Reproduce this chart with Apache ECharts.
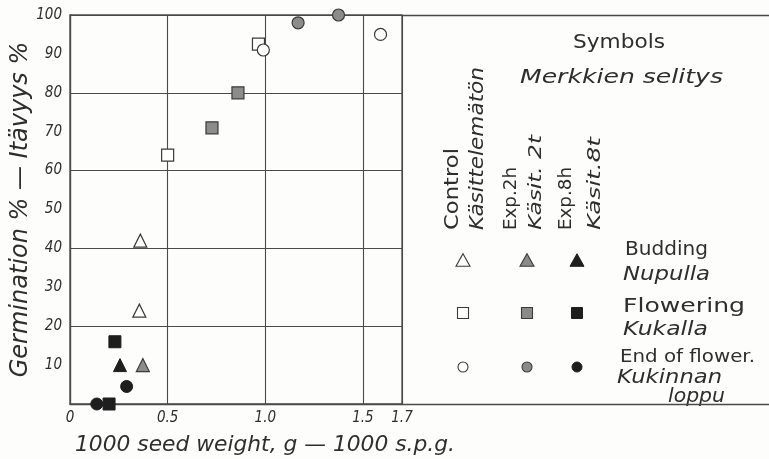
<!DOCTYPE html>
<html>
<head>
<meta charset="utf-8">
<script src="https://cdn.jsdelivr.net/npm/echarts@6/dist/echarts.min.js"></script>
<style>html,body{margin:0;padding:0;background:#fdfdfc;}#c{width:769px;height:459px;}</style>
</head>
<body>
<div id="c"></div>
<script>
// ---- data: [1000 seed weight g, germination %]
var controlBudding   = [[0.36, 42], [0.355, 24]];
var controlFlowering = [[0.50, 64], [0.965, 92.5]];
var controlEnd       = [[0.99, 91], [1.59, 95]];
var exp2Budding      = [[0.373, 10]];
var exp2Flowering    = [[0.727, 71], [0.86, 80]];
var exp2End          = [[1.168, 98], [1.375, 100]];
var exp8Budding      = [[0.256, 10]];
var exp8Flowering    = [[0.23, 16], [0.20, 0]];
var exp8End          = [[0.29, 4.5], [0.137, 0]];
var xTickValues = [0, 0.5, 1.0, 1.5, 1.7];
var yTickLabels = [10, 20, 30, 40, 50, 60, 70, 80, 90, 100];

var INK = '#2e2e2e';
var LINE = '#4a4a4a';
var FONT = 'DejaVu Sans';
var FONTC = 'DejaVu Sans Condensed, DejaVu Sans';

var hatch = {
  symbol: 'rect', symbolSize: 1, dashArrayX: [1, 0], dashArrayY: [1.5, 1.5],
  rotation: -Math.PI / 4, color: '#444', backgroundColor: '#9a9a9a'
};
var styles = {
  open:   { color: '#fff', borderColor: '#3a3a3a', borderWidth: 1.2, opacity: 1 },
  hatch:  { color: '#8c8c8c', borderColor: '#3a3a3a', borderWidth: 1.2, opacity: 1, decal: hatch },
  filled: { color: '#1e1e1e', borderColor: '#1e1e1e', borderWidth: 1, opacity: 1 }
};
function sc(name, data, symbol, st, size) {
  return {
    name: name, type: 'scatter', xAxisIndex: 0, yAxisIndex: 0,
    data: data, symbol: symbol, symbolSize: size, itemStyle: st, z: 5, silent: true
  };
}

var chart = echarts.init(document.getElementById('c'));

var mctx = document.createElement('canvas').getContext('2d');
function measure(text, font) { mctx.font = font; return mctx.measureText(text).width; }

// text stretched along its baseline to a target length
function txt(x, y, text, size, italic, target, opts) {
  opts = opts || {};
  var font = (italic ? 'italic ' : '') + size + 'px ' + FONT;
  var w = measure(text, font);
  var s = target ? target / w : 1;
  return {
    type: 'text', x: x, y: y, rotation: opts.rot || 0, scaleX: s, silent: true,
    style: {
      text: text, fill: INK, font: font,
      textAlign: opts.align || 'left', textVerticalAlign: 'middle'
    }
  };
}
function sym(kind, x, y, st, size) {
  var shape, t;
  if (kind === 'circle') { t = 'circle'; shape = { cx: x, cy: y, r: size / 2 }; }
  else if (kind === 'rect') { t = 'rect'; shape = { x: x - size / 2, y: y - size / 2, width: size, height: size }; }
  else { t = 'polygon'; shape = { points: [[x, y - size * 0.45], [x + size / 2, y + size * 0.45], [x - size / 2, y + size * 0.45]] }; }
  return { type: t, shape: shape, silent: true,
    style: { fill: st.color, stroke: st.borderColor, lineWidth: st.borderWidth } };
}

var legendCols = [463, 527, 577];
var legendRows = [260, 313, 367];
var legendKinds = ['triangle', 'rect', 'circle'];
var legendSizes = [14, 11, 10];
var legendStyles = [
  { color: '#fff', borderColor: '#3a3a3a', borderWidth: 1.1 },
  { color: '#8a8a8a', borderColor: '#3a3a3a', borderWidth: 1.1 },
  { color: '#1e1e1e', borderColor: '#1e1e1e', borderWidth: 1 }
];
var graphics = [];
legendRows.forEach(function (ry, ri) {
  legendCols.forEach(function (cx, ci) {
    graphics.push(sym(legendKinds[ri], cx, ry, legendStyles[ci], legendSizes[ri]));
  });
});
var R = Math.PI / 2;
graphics.push(
  txt(573, 43, 'Symbols', 19, false, 92),
  txt(520, 78, 'Merkkien selitys', 20, true, 203),
  txt(453, 230, 'Control', 19, false, 82, { rot: R }),
  txt(478, 230, 'Käsittelemätön', 19, true, 163, { rot: R }),
  txt(512, 230, 'Exp.2h', 17, false, 63, { rot: R }),
  txt(536, 230, 'Käsit. 2t', 18, true, 95, { rot: R }),
  txt(567, 230, 'Exp.8h', 17, false, 63, { rot: R }),
  txt(595, 230, 'Käsit.8t', 18, true, 93, { rot: R }),
  txt(625, 250, 'Budding', 19, false, 83),
  txt(623, 275, 'Nupulla', 19, true, 87),
  txt(623, 307, 'Flowering', 19, false, 122),
  txt(623, 330, 'Kukalla', 19, true, 85),
  txt(620, 357, 'End of flower.', 18, false, 135),
  txt(617, 378, 'Kukinnan', 19, true, 105),
  txt(668, 397, 'loppu', 19, true, 57),
  txt(75, 446, '1000 seed weight, g — 1000 s.p.g.', 21, true, 380)
);

var axisLineStyle = { color: LINE, width: 1.3 };
chart.setOption({
  animation: false,
  backgroundColor: '#fdfdfc',
  grid: [
    { left: 70, top: 15, right: 367, bottom: 55, show: true, borderColor: LINE, borderWidth: 1.3, backgroundColor: 'transparent' },
    { left: 402, top: 15, right: 0, bottom: 55, show: false }
  ],
  xAxis: [
    {
      gridIndex: 0, type: 'value', min: 0, max: 1.7, interval: 0.5,
      axisLine: { show: true, lineStyle: axisLineStyle },
      axisTick: { show: false },
      splitLine: { show: true, lineStyle: { color: LINE, width: 1.1 } },
      axisLabel: {
        margin: 7, color: INK, fontFamily: FONTC, fontStyle: 'italic', fontSize: 15,
        customValues: xTickValues,
        formatter: function (v) { return v === 0 ? '0' : v.toFixed(1); }
      }
    },
    { gridIndex: 1, type: 'value', position: 'bottom', min: 0, max: 1,
      axisLine: { show: true, lineStyle: axisLineStyle }, axisTick: { show: false },
      axisLabel: { show: false }, splitLine: { show: false } },
    { gridIndex: 1, type: 'value', position: 'top', min: 0, max: 1,
      axisLine: { show: true, lineStyle: axisLineStyle }, axisTick: { show: false },
      axisLabel: { show: false }, splitLine: { show: false } }
  ],
  yAxis: [
    {
      gridIndex: 0, type: 'value', min: 0, max: 100, interval: 10,
      axisLine: { show: true, lineStyle: axisLineStyle },
      axisTick: { show: false }, splitLine: { show: false },
      axisLabel: {
        margin: 8, color: INK, fontFamily: FONTC, fontStyle: 'italic', fontSize: 15,
        formatter: function (v) { return yTickLabels.indexOf(v) >= 0 ? String(v) : ''; }
      },
      name: 'Germination % — Itävyys %', nameLocation: 'middle', nameRotate: 90, nameGap: 35,
      nameTextStyle: { color: INK, fontFamily: FONT, fontStyle: 'italic', fontSize: 24 }
    },
    {
      gridIndex: 0, type: 'value', min: 0, max: 100, interval: 20, position: 'left',
      axisLine: { show: false }, axisTick: { show: false }, axisLabel: { show: false },
      splitLine: { show: true, lineStyle: { color: LINE, width: 1.1 } }
    },
    { gridIndex: 1, type: 'value', show: false, min: 0, max: 1 }
  ],
  graphic: graphics,
  series: [
    sc('Control budding', controlBudding, 'triangle', styles.open, 13),
    sc('Control flowering', controlFlowering, 'rect', styles.open, 12),
    sc('Control end', controlEnd, 'circle', styles.open, 12),
    sc('Exp 2h budding', exp2Budding, 'triangle', styles.hatch, 13),
    sc('Exp 2h flowering', exp2Flowering, 'rect', styles.hatch, 12),
    sc('Exp 2h end', exp2End, 'circle', styles.hatch, 12),
    sc('Exp 8h budding', exp8Budding, 'triangle', styles.filled, 13),
    sc('Exp 8h flowering', exp8Flowering, 'rect', styles.filled, 12),
    sc('Exp 8h end', exp8End, 'circle', styles.filled, 12)
  ]
});
</script>
</body>
</html>
